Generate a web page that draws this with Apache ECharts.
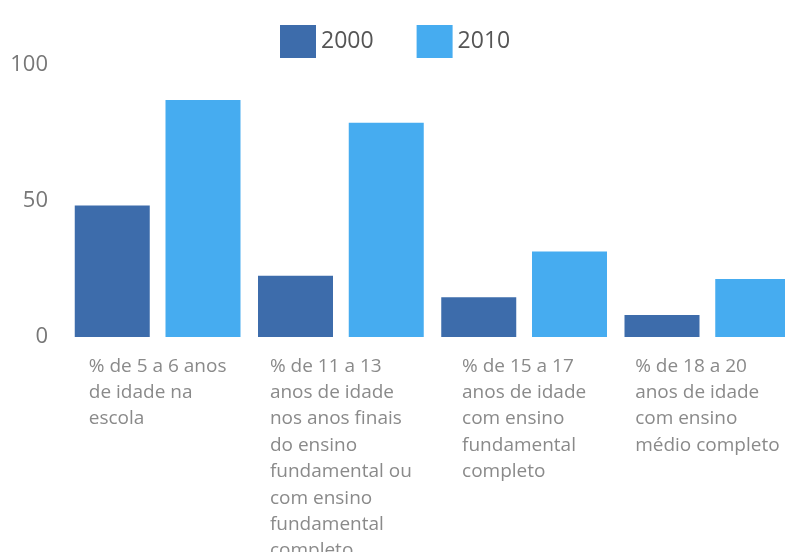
<!DOCTYPE html>
<html>
<head>
<meta charset="utf-8">
<script src="https://cdn.jsdelivr.net/npm/echarts@6/dist/echarts.min.js"></script>
<style>
html,body{margin:0;padding:0;background:#fff;overflow:hidden;width:785px;height:552px;}
#chart{width:800px;height:552px;}
</style>
</head>
<body>
<div id="chart"></div>
<script>
const categories = [
  "% de 5 a 6 anos\nde idade na\nescola",
  "% de 11 a 13\nanos de idade\nnos anos finais\ndo ensino\nfundamental ou\ncom ensino\nfundamental\ncompleto",
  "% de 15 a 17\nanos de idade\ncom ensino\nfundamental\ncompleto",
  "% de 18 a 20\nanos de idade\ncom ensino\nmédio completo"
];
const seriesNames = ["2000", "2010"];
const values2000 = [48.3, 22.5, 14.6, 8.1];
const values2010 = [87.1, 78.8, 31.4, 21.3];

const chart = echarts.init(document.getElementById('chart'));
chart.setOption({
  animation: false,
  backgroundColor: '#ffffff',
  textStyle: { fontFamily: 'Open Sans' },
  legend: {
    top: 20,
    left: 275,
    itemWidth: 36,
    itemHeight: 33,
    itemGap: 43,
    icon: 'rect',
    textStyle: { fontSize: 23, color: '#555', fontFamily: 'Open Sans' },
    data: seriesNames
  },
  grid: { left: 66, top: 65, right: 1, bottom: 215, containLabel: false, outerBoundsMode: 'none' },
  xAxis: {
    type: 'category',
    data: categories,
    axisLine: { show: false },
    axisTick: { show: false },
    axisLabel: {
      interval: 0,
      margin: 16,
      formatter: function (v) {
        return v.split('\n').map(function (l) { return '{a|' + l + '}'; }).join('\n');
      },
      rich: {
        a: { align: 'left', fontSize: 19, lineHeight: 26.4, color: '#8a8a8a', fontFamily: 'Open Sans' }
      }
    }
  },
  yAxis: {
    type: 'value',
    min: 0,
    max: 100,
    interval: 50,
    splitLine: { show: false },
    axisLine: { show: false },
    axisTick: { show: false },
    axisLabel: { fontSize: 22, color: '#777', margin: 18, fontFamily: 'Open Sans' }
  },
  series: [
    {
      name: seriesNames[0],
      type: 'bar',
      data: values2000,
      barWidth: 75,
      barGap: '21%',
      itemStyle: { color: '#3d6cab' }
    },
    {
      name: seriesNames[1],
      type: 'bar',
      data: values2010,
      barWidth: 75,
      itemStyle: { color: '#46acf0' }
    }
  ]
});
</script>
</body>
</html>
